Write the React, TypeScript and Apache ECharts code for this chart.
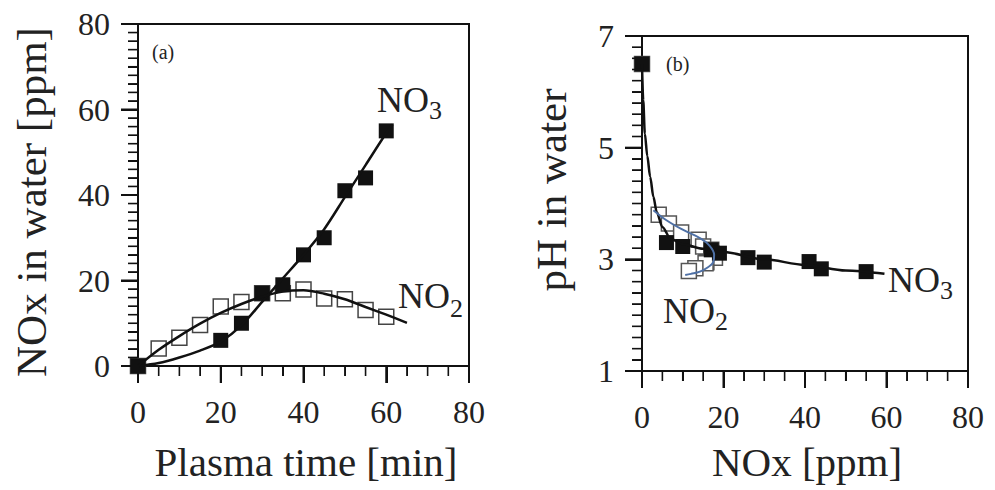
import React, { useEffect, useRef } from "react";
import * as echarts from "echarts";

// ---- Panel (a): NOx in water vs plasma time ----
const timeNO3 = [0, 20, 25, 30, 35, 40, 45, 50, 55, 60];
const no3 = [0, 6, 10, 17, 19, 26, 30, 41, 44, 55];
const timeNO2 = [0, 5, 10, 15, 20, 25, 30, 35, 40, 45, 50, 55, 60];
const no2 = [0, 4.1, 6.6, 9.6, 13.9, 15, 17, 17, 17.9, 15.8, 15.6, 13.1, 11.5];

// fitted curves
const fitNO3X = [0, 5, 10, 15, 20, 25, 30, 35, 40, 45, 50, 55, 60, 61.5];
const fitNO3Y = [0, 0.7, 2, 3.6, 5.7, 9.5, 15, 20.5, 26, 32, 39.5, 47, 54.5, 56.5];
const fitNO2X = [0, 5, 10, 15, 20, 25, 30, 35, 40, 45, 50, 55, 60, 65];
const fitNO2Y = [0, 3.8, 7, 9.9, 12.4, 14.5, 16.2, 17.4, 17.7, 16.9, 15.6, 13.8, 12, 10.1];

// ---- Panel (b): pH in water vs NOx ----
const phNO3 = [6.5, 3.3, 3.23, 3.17, 3.11, 3.03, 2.95, 2.96, 2.83, 2.78];
const phNO2 = [6.5, 3.8, 3.64, 3.48, 3.35, 3.23, 3.17, 3.11, 3.03, 2.95, 2.93, 2.84, 2.79];
const fitPhNO3X = [0, 0.3, 0.7, 1.3, 2, 2.8, 3.6, 5, 7, 10, 15, 20, 30, 40, 50, 59.5];
const fitPhNO3Y = [6.5, 5.85, 5.25, 4.85, 4.48, 4.12, 3.85, 3.58, 3.37, 3.27, 3.19, 3.13, 3.0, 2.9, 2.8, 2.74];
const fitPhNO2X = [2.8, 6, 10, 14.2, 16.5, 17.7, 17.5, 16, 14.2, 12, 10.6];
const fitPhNO2Y = [3.88, 3.7, 3.53, 3.38, 3.25, 3.08, 2.95, 2.85, 2.78, 2.74, 2.72];

// tick labels
const axisTicksA = [0, 20, 40, 60, 80];
const axisTicksPH = [1, 3, 5, 7];

const FONT = "'Liberation Serif','Times New Roman',serif";
const INK = "#111";
const MAJOR = 17;
const MINOR = 10;

const zip = (xs: number[], ys: number[]) => xs.map((x, i) => [x, ys[i]]);

function valueAxis(gridIndex: number, ticks: number[], minorSplit: number, margin: number) {
  return {
    gridIndex,
    type: "value",
    min: ticks[0],
    max: ticks[ticks.length - 1],
    interval: ticks[1] - ticks[0],
    axisLine: { show: true, onZero: false, lineStyle: { color: INK, width: 2 } },
    axisTick: { show: true, length: MAJOR, lineStyle: { color: INK, width: 2 } },
    minorTick: { show: true, splitNumber: minorSplit, length: MINOR },
    splitLine: { show: false },
    axisLabel: { fontSize: 32, color: "#222", fontFamily: FONT, margin },
  };
}

// tick positions along an axis: [value, tick length]
function tickValues(ticks: number[], minorSplit: number) {
  const out: number[][] = [];
  for (let i = 0; i < ticks.length; i++) {
    out.push([ticks[i], MAJOR]);
    if (i < ticks.length - 1) {
      const step = (ticks[i + 1] - ticks[i]) / minorSplit;
      for (let j = 1; j < minorSplit; j++) {
        out.push([Math.round((ticks[i] + step * j) * 1000) / 1000, MINOR]);
      }
    }
  }
  return out;
}

type TickSpec = { grid: number; orient: "x" | "y"; ticks: number[]; minorSplit: number; fixed: number };
const tickSpecs: TickSpec[] = [
  { grid: 0, orient: "x", ticks: axisTicksA, minorSplit: 4, fixed: axisTicksA[0] },
  { grid: 0, orient: "y", ticks: axisTicksA, minorSplit: 10, fixed: axisTicksA[0] },
  { grid: 1, orient: "x", ticks: axisTicksA, minorSplit: 4, fixed: axisTicksPH[0] },
  { grid: 1, orient: "y", ticks: axisTicksPH, minorSplit: 10, fixed: axisTicksA[0] },
];

function tickRect(p: number[], orient: "x" | "y", len: number) {
  const w = len === MAJOR ? 2 : 1.6;
  return orient === "x"
    ? { x: p[0] - w / 2, y: p[1], width: w, height: len }
    : { x: p[0] - len, y: p[1] - w / 2, width: len, height: w };
}

function label(text: string, x: number, y: number, size: number, extra: any = {}) {
  return {
    type: "text",
    x,
    y,
    z: 100,
    style: {
      text,
      fontSize: size,
      fontFamily: FONT,
      fill: "#222",
      align: "left",
      verticalAlign: "middle",
      ...(extra.style || {}),
    },
    ...(extra.el || {}),
  };
}

export default function App() {
  const ref = useRef<HTMLDivElement>(null);
  useEffect(() => {
    if (!ref.current) return;
    const chart = echarts.init(ref.current, undefined, { renderer: "svg" });
    const textGraphics = [
      label("(a)", 152, 52, 20),
      label("(b)", 666, 64, 20),
      label("NO", 377, 100, 36),
      label("3", 429, 110, 26),
      label("NO", 398, 296, 36),
      label("2", 450, 308, 26),
      label("NO", 888, 280, 36),
      label("3", 940, 290, 26),
      label("NO", 663, 311, 36),
      label("2", 715, 321, 26),
      label("Plasma time [min]", 306, 462, 41, { style: { align: "center" } }),
      label("NOx [ppm]", 807, 462, 41, { style: { align: "center" } }),
      label("NOx in water [ppm]", 31, 202, 43, { style: { align: "center" }, el: { rotation: Math.PI / 2 } }),
      label("pH in water", 551, 190, 43, { style: { align: "center" }, el: { rotation: Math.PI / 2 } }),
    ];
    const option: any = {
      animation: false,
      grid: [
        { left: 138, top: 24, width: 331, height: 342, show: true, borderColor: INK, borderWidth: 2 },
        { left: 642, top: 36, width: 326, height: 335, show: true, borderColor: INK, borderWidth: 2 },
      ],
      xAxis: [valueAxis(0, axisTicksA, 4, 30), valueAxis(1, axisTicksA, 4, 30)],
      yAxis: [valueAxis(0, axisTicksA, 10, 28), valueAxis(1, axisTicksPH, 10, 28)],
      series: [
        {
          type: "scatter", xAxisIndex: 0, yAxisIndex: 0, data: zip(timeNO2, no2), clip: false,
          symbol: "rect", symbolSize: 15, z: 2,
          itemStyle: { color: "#fff", borderColor: "#444", borderWidth: 1.5, opacity: 1 },
        },
        {
          type: "scatter", xAxisIndex: 0, yAxisIndex: 0, data: zip(timeNO3, no3), clip: false,
          symbol: "rect", symbolSize: 15, z: 3, itemStyle: { color: INK, opacity: 1 },
        },
        {
          type: "line", xAxisIndex: 0, yAxisIndex: 0, data: zip(fitNO3X, fitNO3Y), showSymbol: false,
          smooth: 0.3, z: 4, lineStyle: { color: INK, width: 2.5 },
        },
        {
          type: "line", xAxisIndex: 0, yAxisIndex: 0, data: zip(fitNO2X, fitNO2Y), showSymbol: false,
          smooth: 0.3, z: 4, lineStyle: { color: INK, width: 2.5 },
        },
        {
          type: "scatter", xAxisIndex: 1, yAxisIndex: 1, data: zip(no2, phNO2), clip: false,
          symbol: "rect", symbolSize: 15, z: 2,
          itemStyle: { color: "#fff", borderColor: "#555", borderWidth: 1.5, opacity: 1 },
        },
        {
          type: "scatter", xAxisIndex: 1, yAxisIndex: 1, data: zip(no3, phNO3), clip: false,
          symbol: "rect", symbolSize: 15, z: 3, itemStyle: { color: INK, opacity: 1 },
        },
        {
          type: "line", xAxisIndex: 1, yAxisIndex: 1, data: zip(fitPhNO3X, fitPhNO3Y), showSymbol: false,
          smooth: 0.3, smoothMonotone: "x", z: 4, lineStyle: { color: INK, width: 2.5 },
        },
        {
          type: "line", xAxisIndex: 1, yAxisIndex: 1, data: zip(fitPhNO2X, fitPhNO2Y), showSymbol: false,
          smooth: 0.4, z: 5, lineStyle: { color: "#4f71a6", width: 2 },
        },
      ],
      graphic: textGraphics,
    };
    chart.setOption(option);

    // axis ticks placed through the chart's own scales (backup to the native ticks)
    const tickGraphics: any[] = [];
    try {
      tickSpecs.forEach((spec) => {
        tickValues(spec.ticks, spec.minorSplit).forEach(([v, len]) => {
          const pt = spec.orient === "x" ? [v, spec.fixed] : [spec.fixed, v];
          const p = chart.convertToPixel({ xAxisIndex: spec.grid, yAxisIndex: spec.grid } as any, pt) as any;
          if (!p || !Array.isArray(p) || isNaN(p[0]) || isNaN(p[1])) return;
          tickGraphics.push({
            type: "rect",
            z: 50,
            silent: true,
            shape: tickRect(p, spec.orient, len),
            style: { fill: INK },
          });
        });
      });
    } catch (e) {
      // keep chart without extra ticks
    }
    if (tickGraphics.length) {
      chart.setOption({ graphic: [...textGraphics, ...tickGraphics] }, { replaceMerge: ["graphic"] } as any);
    }
    return () => chart.dispose();
  }, []);
  return <div ref={ref} style={{ position: "fixed", left: 0, top: 0, width: 995, height: 490, background: "#fff" }} />;
}
